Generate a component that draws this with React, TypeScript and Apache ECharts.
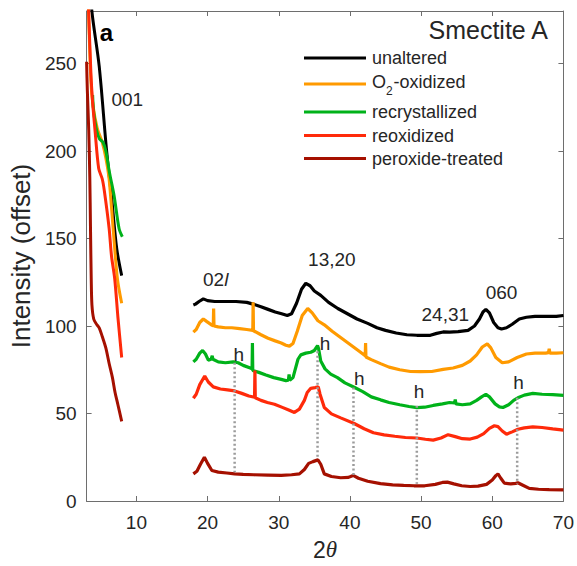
import React, { useEffect, useRef } from "react";
import * as echarts from "echarts";

const FONT = 'Arial, "Liberation Sans", Helvetica, sans-serif';
const TXT = "#262626";
const AX = "#6e6e6e";

const sampleNames = ["unaltered", "O2-oxidized", "recrystallized", "reoxidized", "peroxide-treated"];
const sampleColors = ["#000000", "#FF9A00", "#00B21A", "#FF2A0A", "#A51000"];

// low-angle (001) region
const unalteredLow = [[3.5, 300], [3.74, 280], [4.77, 248.5], [5.79, 201], [6.53, 172.7], [7.23, 144.3], [7.93, 128.8]];
const oxidizedLow = [[3.2, 290], [3.6, 240], [3.9, 226], [4.5, 213], [5.2, 205], [5.7, 196], [6.16, 184], [6.72, 156], [7.33, 127], [7.93, 113]];
const recrystLow = [[3.85, 232], [4.0, 222], [4.4, 212], [4.8, 207], [5.3, 205], [5.7, 200], [6.2, 188], [6.86, 174.6], [7.56, 155.7], [8.02, 151]];
const reoxLow = [[3.2, 290], [3.3, 278], [3.6, 245], [3.84, 228], [4.2, 211], [4.7, 190], [5.2, 184], [5.5, 177], [6.16, 156], [6.5, 140], [6.95, 127], [7.4, 105], [7.93, 82]];
const peroxLow = [[3.0, 251], [3.1, 235], [3.3, 212], [3.45, 185], [3.55, 155], [3.65, 127], [3.75, 112], [4.0, 104], [4.4, 101], [4.77, 98.9], [5.2, 94], [5.7, 87.5], [6.2, 78], [6.63, 70.5], [7.0, 62], [7.4, 55], [7.93, 45.5]];

// high-angle region
const unalteredHigh = [[18.0, 112], [18.3, 112.5], [18.8, 114], [19.4, 115.5], [20.0, 114.5], [21, 114], [22.5, 114], [24, 114], [25.5, 113.5], [26.4, 112.5], [27.5, 111], [28.5, 109.5], [29.5, 108], [30.4, 107], [31.2, 106], [31.8, 107], [32.5, 113], [33.2, 121], [33.8, 124.4], [34.4, 123], [35.0, 120], [35.9, 117.5], [37, 113.5], [38.3, 110], [39.65, 107], [41, 104], [42.5, 101.5], [43.8, 99], [45, 97.5], [46.5, 96], [48, 95], [49.4, 94.7], [51.3, 94.7], [52.2, 95.8], [53.1, 96.6], [54, 96.5], [55.2, 96.8], [56.6, 97.5], [57.5, 100], [58.2, 104], [58.7, 108], [59.1, 109.5], [59.6, 107.5], [60.2, 102], [60.8, 99], [61.3, 98.3], [62, 99], [62.8, 101], [63.8, 104], [64.8, 105], [66, 105.5], [67.5, 105.5], [69, 105.5], [70, 106]];
const oxidizedHigh = [[18.0, 96.5], [18.4, 98], [18.9, 102], [19.4, 104], [19.9, 102.5], [20.6, 100.5], [20.8, 100], [20.85, 110], [20.9, 100], [21.5, 99.5], [22.5, 99], [23.4, 99], [24.5, 98.5], [25.5, 98], [26.35, 97.5], [26.4, 113.6], [26.45, 97.3], [27.5, 95], [28.5, 93], [29.5, 91.5], [30.35, 90.3], [31.0, 89], [31.5, 88.5], [32.0, 90], [32.6, 97], [33.3, 106], [34.07, 110], [34.7, 107.5], [35.5, 103], [36.4, 100.7], [37.5, 97], [38.5, 94], [39.5, 91], [40.5, 88], [41.5, 85], [42.15, 83], [42.2, 90.3], [42.25, 82.3], [43, 80.8], [44.3, 78.5], [45.5, 76.5], [47, 75], [48.5, 74], [49.9, 73.9], [51.5, 74], [53.1, 75.2], [54.5, 76], [55.8, 77.5], [56.9, 80], [57.8, 83.5], [58.6, 88], [59.3, 89.8], [59.8, 87.5], [60.5, 82], [61.4, 79], [62.3, 79.5], [63.5, 82], [64.8, 84], [66, 84.5], [67.5, 84.5], [67.9, 84.8], [68.0, 87], [68.1, 84.5], [69, 84.5], [70, 84.7]];
const recrystHigh = [[18.0, 79.5], [18.4, 81], [18.9, 84.5], [19.3, 86], [19.7, 84], [20.1, 80.5], [20.5, 81], [20.65, 83], [20.75, 81], [21.5, 79.5], [22.5, 79], [23.6, 79.5], [24.3, 79], [25, 77.5], [26.0, 76], [26.25, 75.5], [26.3, 90.3], [26.35, 74.6], [27.2, 73.5], [28.2, 72], [29.3, 70.5], [30.35, 69.5], [31.0, 68.8], [31.35, 69], [31.45, 72.3], [31.55, 69], [32.0, 70.5], [32.7, 81], [33.1, 83.5], [33.8, 84.5], [34.5, 85], [35.0, 86], [35.45, 88.8], [35.6, 87], [35.9, 80], [36.5, 75.5], [37.3, 72.5], [38.25, 70.5], [39.3, 67.5], [40.6, 65], [41.8, 62.5], [43, 59.5], [44.3, 57.8], [45.5, 56.3], [47, 55], [48.3, 54], [49.4, 53.4], [50.5, 53.6], [51.7, 54.6], [53, 55.5], [54.0, 56.3], [54.7, 56], [54.8, 58], [54.9, 55.5], [55.8, 55], [56.9, 55.5], [57.8, 57.5], [58.5, 59.5], [59.1, 61], [59.6, 59.5], [60.4, 55.5], [61.0, 53.8], [61.5, 53.4], [62.3, 55], [63.0, 57.5], [63.6, 59], [64.5, 60.5], [65.7, 61.5], [67, 61], [68.5, 60.8], [70, 60.4]];
const reoxHigh = [[18.0, 58.7], [18.4, 61], [18.9, 66.5], [19.6, 71.4], [20.1, 68], [20.8, 65.2], [21.8, 64], [22.8, 63.5], [23.8, 62.9], [24.8, 61.5], [25.8, 60], [26.6, 59.3], [26.65, 74.6], [26.7, 59], [27.5, 57.5], [28.4, 56.3], [29.4, 55.3], [30.5, 53.5], [31.4, 52], [32.2, 50.6], [32.9, 52.5], [33.6, 57.5], [34.0, 62], [34.5, 64.4], [35.1, 64.8], [35.55, 65.2], [35.8, 61], [36.4, 53.4], [37.4, 49.8], [38.7, 47.5], [40.6, 44.3], [42.0, 41.3], [43.3, 39], [44.8, 37.8], [46.3, 37], [47.8, 36.3], [49.4, 36], [50.6, 35.3], [51.7, 34.8], [52.8, 36], [53.8, 37.9], [54.8, 36.8], [55.8, 35.6], [56.9, 35.4], [57.9, 36.5], [58.8, 38.5], [59.6, 41.5], [60.3, 43], [60.8, 42.5], [61.4, 40], [62.0, 38.2], [62.8, 39.5], [63.6, 41], [64.5, 41.8], [65.7, 42.4], [67, 42], [68.5, 41.2], [70, 40.5]];
const peroxHigh = [[18.0, 15.5], [18.5, 17], [19.0, 21], [19.55, 25], [20.0, 21.5], [20.6, 17.4], [21.5, 16.5], [22.7, 16], [23.8, 15.5], [25, 15.2], [26.5, 15], [28.5, 14.8], [30.35, 14.6], [31.8, 15], [32.9, 15.5], [33.6, 18], [34.2, 21.5], [34.8, 22.5], [35.5, 23.5], [35.9, 21], [36.4, 15.5], [37.4, 14], [38.7, 13.3], [39.8, 13.5], [40.45, 14.6], [41.2, 13], [42.5, 11.3], [44.3, 9.9], [46, 9.2], [47.55, 8.9], [49, 8.7], [50.5, 8.7], [52, 9.5], [53.0, 10.6], [53.7, 10.8], [54.6, 9.8], [55.7, 8.7], [56.9, 8.3], [58.0, 8.5], [59.2, 9.5], [60.0, 12], [60.5, 14.5], [60.8, 15.5], [61.2, 13], [61.7, 10.2], [62.6, 9.8], [63.3, 10.1], [63.6, 10.4], [64.3, 9.0], [65.2, 7.2], [66.5, 6.7], [68, 6.5], [70, 6.4]];

const lowSeries = [unalteredLow, oxidizedLow, recrystLow, reoxLow, peroxLow];
const highSeries = [unalteredHigh, oxidizedHigh, recrystHigh, reoxHigh, peroxHigh];

const xTicks = [10, 20, 30, 40, 50, 60, 70];
const yTicks = [0, 50, 100, 150, 200, 250];

// hematite markers: x, top, bottom
const hMarkerX = [23.8, 35.45, 40.5, 49.4, 63.5];
const hMarkerTop = [79, 85.6, 64.8, 54.4, 59];
const hMarkerBottom = [16.5, 24, 14.6, 9.8, 9.8];
const hLabelX = [24.4, 36.5, 41.3, 49.7, 63.7];
const hLabelY = [83.5, 89.8, 69.9, 62.8, 67.6];

const peakText = ["001", "02l", "13,20", "24,31", "060"];
const peakX = [8.72, 21.14, 37.46, 53.4, 61.3];
const peakY = [229.5, 126.7, 138, 106.3, 119.3];

export default function App() {
  const ref = useRef<HTMLDivElement>(null);
  useEffect(() => {
    document.body.style.margin = "0";
    const chart = echarts.init(ref.current!, null, { renderer: "svg" });

    const series: any[] = [];
    sampleNames.forEach((name, i) => {
      series.push({
        type: "line", name, data: lowSeries[i], symbol: "none", silent: true, smooth: 0.3,
        lineStyle: { color: sampleColors[i], width: 3 }, z: 2 + i,
      });
      series.push({
        type: "line", name, data: highSeries[i], symbol: "none", silent: true,
        lineStyle: { color: sampleColors[i], width: 3.2 }, z: 2 + i,
      });
    });
    hMarkerX.forEach((x, i) => {
      series.push({
        type: "line", data: [[x, hMarkerTop[i]], [x, hMarkerBottom[i]]], symbol: "none", silent: true,
        lineStyle: { color: "#9b9b9b", width: 2.5, type: [2, 2.5] }, z: 10,
      });
    });
    const labelBase = { show: true, position: "inside", fontSize: 19, color: TXT, fontFamily: FONT, opacity: 1 };
    series.push({
      type: "scatter", symbolSize: 0, silent: true, z: 11,
      itemStyle: { opacity: 1 },
      data: hLabelX.map((x, i) => ({ value: [x, hLabelY[i]], name: "h" })),
      label: { ...labelBase, formatter: (p: any) => p.name },
    });
    series.push({
      type: "scatter", symbolSize: 0, silent: true, z: 11,
      itemStyle: { opacity: 1 },
      data: peakText.map((t, i) => ({ value: [peakX[i], peakY[i]], name: t })),
      label: {
        ...labelBase,
        formatter: (p: any) => (p.name === "02l" ? "{n|02}{i|l}" : p.name),
        rich: {
          n: { fontSize: 19, color: TXT, fontFamily: FONT },
          i: { fontSize: 19, color: TXT, fontFamily: FONT, fontStyle: "italic" },
        },
      },
    });

    const axisLine = { show: true, onZero: false, lineStyle: { color: AX, width: 1 } };
    const legendY = [58, 84, 112, 135.5, 158.5];
    const graphic: any[] = [];
    sampleNames.forEach((name, i) => {
      graphic.push({
        type: "line", shape: { x1: 304, y1: legendY[i], x2: 366, y2: legendY[i] },
        style: { stroke: sampleColors[i], lineWidth: 3 }, silent: true,
      });
      if (i === 1) {
        graphic.push({ type: "text", x: 372, y: legendY[i] - 2, style: { text: "O", fontSize: 18, fontFamily: FONT, fill: TXT, verticalAlign: "middle" } });
        graphic.push({ type: "text", x: 386, y: legendY[i] + 7, style: { text: "2", fontSize: 12, fontFamily: FONT, fill: TXT, verticalAlign: "middle" } });
        graphic.push({ type: "text", x: 393.5, y: legendY[i] - 2, style: { text: "-oxidized", fontSize: 18, fontFamily: FONT, fill: TXT, verticalAlign: "middle" } });
      } else {
        graphic.push({ type: "text", x: 372, y: legendY[i], style: { text: name, fontSize: 18, fontFamily: FONT, fill: TXT, verticalAlign: "middle" } });
      }
    });
    graphic.push({ type: "text", x: 106.5, y: 32.5, style: { text: "a", fontSize: 24, fontWeight: "bold", fontFamily: FONT, fill: "#000", align: "center", verticalAlign: "middle" } });
    graphic.push({ type: "text", x: 548, y: 30, style: { text: "Smectite A", fontSize: 25, fontFamily: FONT, fill: TXT, align: "right", verticalAlign: "middle" } });

    chart.setOption({
      animation: false,
      backgroundColor: "#ffffff",
      textStyle: { fontFamily: FONT },
      grid: { left: 84, right: 13, top: 11, bottom: 62, containLabel: false },
      xAxis: [
        {
          type: "value", min: 3, max: 70, position: "bottom",
          axisLine,
          axisTick: { show: true, inside: true, length: 5, customValues: xTicks, lineStyle: { color: AX } },
          axisLabel: { show: true, customValues: xTicks, fontSize: 19, color: TXT, margin: 12, fontFamily: FONT },
          splitLine: { show: false },
          name: "{n|2}{i|θ}", nameLocation: "middle", nameGap: 37,
          nameTextStyle: {
            rich: {
              n: { fontSize: 23, color: TXT, fontFamily: FONT },
              i: { fontSize: 23, color: TXT, fontFamily: '"Liberation Serif", serif', fontStyle: "italic" },
            },
          },
        },
        {
          type: "value", min: 3, max: 70, position: "top",
          axisLine,
          axisTick: { show: true, inside: true, length: 5, customValues: xTicks, lineStyle: { color: AX } },
          axisLabel: { show: false },
          splitLine: { show: false },
        },
      ],
      yAxis: [
        {
          type: "value", min: 0, max: 280, position: "left",
          axisLine,
          axisTick: { show: true, inside: true, length: 5, customValues: yTicks, lineStyle: { color: AX } },
          axisLabel: { show: true, customValues: yTicks, fontSize: 19, color: TXT, margin: 10, fontFamily: FONT },
          splitLine: { show: false },
          name: "Intensity (offset)", nameLocation: "middle", nameGap: 50,
          nameTextStyle: { fontSize: 26, color: TXT, fontFamily: FONT },
        },
        {
          type: "value", min: 0, max: 280, position: "right",
          axisLine,
          axisTick: { show: true, inside: true, length: 5, customValues: yTicks, lineStyle: { color: AX } },
          axisLabel: { show: false },
          splitLine: { show: false },
        },
      ],
      graphic,
      series,
    });
    return () => chart.dispose();
  }, []);
  return <div ref={ref} style={{ width: 577, height: 566 }} />;
}
